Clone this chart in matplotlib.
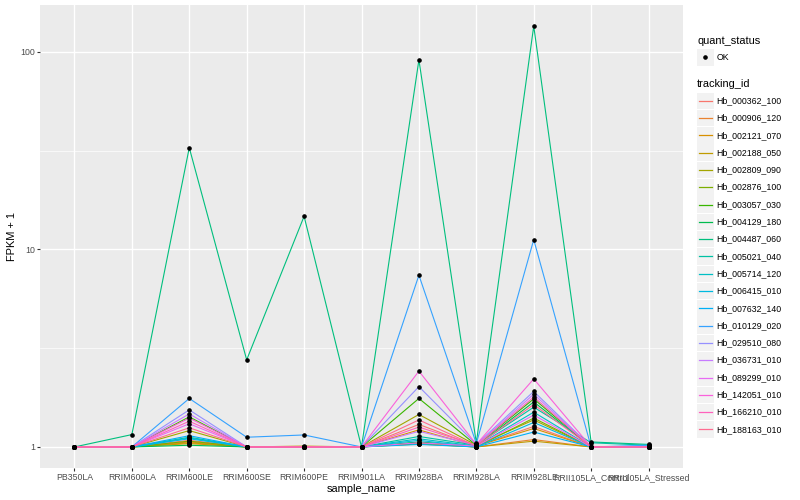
import matplotlib
matplotlib.use("Agg")
import matplotlib.pyplot as plt
from matplotlib.patches import Rectangle
import numpy as np

plt.rcParams["font.family"] = ["Liberation Sans", "DejaVu Sans"]

# samples on the x axis
samples = ["PB350LA", "RRIM600LA", "RRIM600LE", "RRIM600SE", "RRIM600PE",
           "RRIM901LA", "RRIM928BA", "RRIM928LA", "RRIM928LE",
           "RRII105LA_Control", "RRII105LA_Stressed"]

genes = ["Hb_000362_100", "Hb_000906_120", "Hb_002121_070", "Hb_002188_050",
         "Hb_002809_090", "Hb_002876_100", "Hb_003057_030", "Hb_004129_180",
         "Hb_004487_060", "Hb_005021_040", "Hb_005714_120", "Hb_006415_010",
         "Hb_007632_140", "Hb_010129_020", "Hb_029510_080", "Hb_036731_010",
         "Hb_089299_010", "Hb_142051_010", "Hb_166210_010", "Hb_188163_010"]

# FPKM + 1, one row per gene
fpkm = {
    "Hb_000362_100": [1.0, 1.0, 1.08, 1.0, 1.0, 1.0, 1.30, 1.01, 1.27, 1.0, 1.0],
    "Hb_000906_120": [1.0, 1.0, 1.06, 1.0, 1.0, 1.0, 1.05, 1.0, 1.09, 1.0, 1.0],
    "Hb_002121_070": [1.0, 1.0, 1.05, 1.0, 1.0, 1.0, 1.22, 1.01, 1.24, 1.0, 1.0],
    "Hb_002188_050": [1.0, 1.0, 1.04, 1.0, 1.01, 1.0, 1.04, 1.0, 1.07, 1.0, 1.0],
    "Hb_002809_090": [1.0, 1.0, 1.21, 1.0, 1.0, 1.0, 1.46, 1.02, 1.37, 1.0, 1.0],
    "Hb_002876_100": [1.0, 1.0, 1.07, 1.0, 1.0, 1.0, 1.035, 1.0, 1.40, 1.0, 1.0],
    "Hb_003057_030": [1.0, 1.0, 1.42, 1.0, 1.0, 1.0, 1.76, 1.02, 1.75, 1.0, 1.0],
    "Hb_004129_180": [1.0, 1.0, 1.02, 1.0, 1.0, 1.0, 1.06, 1.01, 1.69, 1.0, 1.0],
    "Hb_004487_060": [1.0, 1.155, 32.7, 2.76, 14.7, 1.0, 91.0, 1.05, 135.0, 1.06, 1.03],
    "Hb_005021_040": [1.0, 1.0, 1.12, 1.0, 1.0, 1.0, 1.13, 1.02, 1.59, 1.05, 1.02],
    "Hb_005714_120": [1.0, 1.0, 1.11, 1.0, 1.0, 1.0, 1.10, 1.01, 1.50, 1.0, 1.0],
    "Hb_006415_010": [1.0, 1.0, 1.10, 1.0, 1.0, 1.0, 1.08, 1.0, 1.33, 1.0, 1.0],
    "Hb_007632_140": [1.0, 1.0, 1.14, 1.0, 1.0, 1.0, 1.03, 1.0, 1.19, 1.0, 1.0],
    "Hb_010129_020": [1.0, 1.0, 1.76, 1.12, 1.15, 1.0, 7.4, 1.04, 11.2, 1.0, 1.02],
    "Hb_029510_080": [1.0, 1.0, 1.54, 1.0, 1.0, 1.0, 2.02, 1.03, 1.91, 1.0, 1.0],
    "Hb_036731_010": [1.0, 1.0, 1.47, 1.0, 1.0, 1.0, 1.20, 1.02, 1.85, 1.0, 1.0],
    "Hb_089299_010": [1.0, 1.0, 1.31, 1.0, 1.0, 1.0, 1.05, 1.01, 1.45, 1.0, 1.0],
    "Hb_142051_010": [1.0, 1.0, 1.40, 1.0, 1.0, 1.0, 2.42, 1.03, 2.21, 1.0, 1.0],
    "Hb_166210_010": [1.0, 1.0, 1.35, 1.0, 1.0, 1.0, 1.26, 1.02, 1.79, 1.0, 1.0],
    "Hb_188163_010": [1.0, 1.0, 1.25, 1.0, 1.0, 1.0, 1.37, 1.01, 1.64, 1.0, 1.0],
}

# ggplot hue_pal(20)
colors = ["#F8766D", "#EA8331", "#D89000", "#C09B00", "#A3A500", "#7CAE00",
          "#39B600", "#00BB4E", "#00BF7D", "#00C1A3", "#00BFC4", "#00BAE0",
          "#00B0F6", "#35A2FF", "#9590FF", "#C77CFF", "#E76BF3", "#FA62DB",
          "#FF62BC", "#FF6C91"]

W, H = 800, 500
fig = plt.figure(figsize=(W / 100, H / 100), dpi=100)
ax = fig.add_axes([40 / W, 1 - 468 / H, (683 - 40) / W, (468 - 5) / H])
ax.set_facecolor("#EBEBEB")

x = np.arange(len(samples))
for g, c in zip(genes, colors):
    ax.plot(x, fpkm[g], color=c, lw=0.8, zorder=2)
for g in genes:
    ax.plot(x, fpkm[g], ls="none", marker="o", ms=2.3, color="black",
            mec="black", zorder=3)

ax.set_yscale("log")
allv = np.log10(np.concatenate([fpkm[g] for g in genes]))
lo, hi = allv.min(), allv.max()
pad = 0.05 * (hi - lo)
ax.set_ylim(10 ** (lo - pad), 10 ** (hi + pad))
ax.set_xlim(-0.6, len(samples) - 0.4)

ax.set_yticks([1, 10, 100])
ax.set_yticklabels(["1", "10", "100"])
ax.set_yticks([10 ** 0.5, 10 ** 1.5], minor=True)
ax.set_xticks(x)
ax.set_xticklabels(samples)
ax.tick_params(which="major", length=2, width=0.8, color="#333333",
               labelcolor="#4D4D4D", labelsize=6.3, pad=1.6)
ax.tick_params(which="minor", length=0)
ax.grid(True, which="major", color="white", lw=1.0, zorder=0)
ax.grid(True, which="minor", axis="y", color="white", lw=0.5, zorder=0)
ax.set_axisbelow(True)
for s in ax.spines.values():
    s.set_visible(False)

ax.set_xlabel("sample_name", fontsize=7.9, labelpad=1.5)
ax.set_ylabel("FPKM + 1", fontsize=7.9, labelpad=2)

# legend drawn in pixel coordinates
lg = fig.add_axes([0, 0, 1, 1])
lg.set_xlim(0, W)
lg.set_ylim(H, 0)
lg.axis("off")

lg.text(697, 41, "quant_status", fontsize=7.9, va="center", ha="left")
lg.add_patch(Rectangle((697, 49), 16.5, 16.5, fc="#F2F2F2", ec="none"))
lg.plot([705.2], [57.3], marker="o", ms=2.3, color="black")
lg.text(716.5, 57.3, "OK", fontsize=6.3, va="center", ha="left")

lg.text(697, 84, "tracking_id", fontsize=7.9, va="center", ha="left")
for i, (g, c) in enumerate(zip(genes, colors)):
    yc = 100.7 + i * 17.3
    lg.add_patch(Rectangle((697, yc - 8.2), 16.5, 16.5, fc="#F2F2F2", ec="none"))
    lg.plot([698.5, 711.5], [yc, yc], color=c, lw=0.9)
    lg.text(716.5, yc, g, fontsize=6.3, va="center", ha="left")

fig.savefig("out.png", dpi=100)
